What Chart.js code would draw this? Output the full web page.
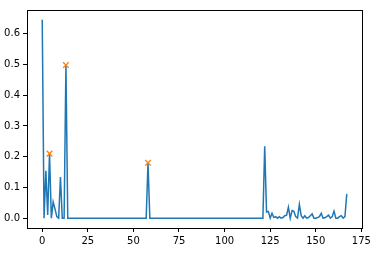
<!DOCTYPE html>
<html>
<head>
<meta charset="utf-8">
<script src="https://cdn.jsdelivr.net/npm/chart.js@4"></script>
<style>
  html, body { margin: 0; padding: 0; background: #fff; }
  #wrap { width: 377px; height: 259px; }
</style>
</head>
<body>
<div id="wrap"><canvas id="peakChart" width="377" height="259"></canvas></div>
<script>
// signal values, one per sample index 0..167
const signal = [
  0.645, 0.0, 0.154, 0.01, 0.21, 0.0, 0.053, 0.03, 0.005, 0.0,
  0.134, 0.0, 0.0, 0.498, 0, 0, 0, 0, 0, 0,
  0, 0, 0, 0, 0, 0, 0, 0, 0, 0,
  0, 0, 0, 0, 0, 0, 0, 0, 0, 0,
  0, 0, 0, 0, 0, 0, 0, 0, 0, 0,
  0, 0, 0, 0, 0, 0, 0, 0, 0.18, 0,
  0, 0, 0, 0, 0, 0, 0, 0, 0, 0,
  0, 0, 0, 0, 0, 0, 0, 0, 0, 0,
  0, 0, 0, 0, 0, 0, 0, 0, 0, 0,
  0, 0, 0, 0, 0, 0, 0, 0, 0, 0,
  0, 0, 0, 0, 0, 0, 0, 0, 0, 0,
  0, 0, 0, 0, 0, 0, 0, 0, 0, 0,
  0, 0, 0.234, 0.02, 0.022, 0.0, 0.016, 0.002, 0.005, 0.0,
  0.005, 0.0, 0.002, 0.008, 0.01, 0.036, 0.0, 0.025, 0.022, 0.005,
  0.0, 0.045, 0.008, 0.0, 0.008, 0.0, 0.002, 0.008, 0.014, 0.0,
  0.0, 0.002, 0.005, 0.016, 0.0, 0.001, 0.005, 0.01, 0.0, 0.005,
  0.023, 0.0, 0.0, 0.005, 0.008, 0.0, 0.005, 0.079
];

// detected peaks (sample indices)
const peakIndices = [4, 13, 58];

const xTicks = [0, 25, 50, 75, 100, 125, 150, 175];
const yTicks = [0.0, 0.1, 0.2, 0.3, 0.4, 0.5, 0.6];

const linePoints = signal.map((v, i) => ({ x: i, y: v }));
const peakPoints = peakIndices.map((i) => ({ x: i, y: signal[i] }));

// box around plot area like matplotlib spines
const frame = {
  id: "frame",
  afterDraw(chart) {
    const { ctx, chartArea: a } = chart;
    ctx.save();
    ctx.strokeStyle = "#000";
    ctx.lineWidth = 1;
    ctx.strokeRect(Math.round(a.left) + 0.5, Math.round(a.top) + 0.5,
      Math.round(a.right - a.left), Math.round(a.bottom - a.top));
    ctx.restore();
  },
};

document.addEventListener("DOMContentLoaded", function () {
  const ctx = document.getElementById("peakChart").getContext("2d");

  Chart.defaults.font.family = "'DejaVu Sans', sans-serif";
  Chart.defaults.font.size = 10;
  Chart.defaults.color = "#000";

  new Chart(ctx, {
    type: "scatter",
    data: {
      datasets: [
        {
          data: linePoints,
          showLine: true,
          borderColor: "#1f77b4",
          borderWidth: 1.5,
          pointRadius: 0,
          tension: 0,
          order: 2,
        },
        {
          data: peakPoints,
          showLine: false,
          pointStyle: "crossRot",
          pointRadius: 4,
          borderColor: "#ff7f0e",
          backgroundColor: "#ff7f0e",
          pointBorderWidth: 1.3,
          order: 1,
        },
      ],
    },
    options: {
      responsive: false,
      animation: false,
      layout: { padding: { top: 10, right: 15, left: 0, bottom: 0 } },
      plugins: { legend: { display: false }, tooltip: { enabled: false } },
      scales: {
        x: {
          type: "linear",
          min: -8.35,
          max: 175.35,
          afterBuildTicks: (s) => { s.ticks = xTicks.map((v) => ({ value: v })); },
          afterFit: (s) => { s.height = 31; },
          grid: { display: true, drawOnChartArea: false, drawTicks: true, tickLength: 4, color: "#000" },
          border: { display: false },
          ticks: { padding: 3, maxRotation: 0, callback: (v) => String(v) },
        },
        y: {
          type: "linear",
          min: -0.032,
          max: 0.677,
          afterBuildTicks: (s) => { s.ticks = yTicks.map((v) => ({ value: v })); },
          afterFit: (s) => { s.width = 27; },
          grid: { display: true, drawOnChartArea: false, drawTicks: true, tickLength: 4, color: "#000" },
          border: { display: false },
          ticks: { padding: 3, callback: (v) => v.toFixed(1) },
        },
      },
    },
    plugins: [frame],
  });
});
</script>
</body>
</html>
